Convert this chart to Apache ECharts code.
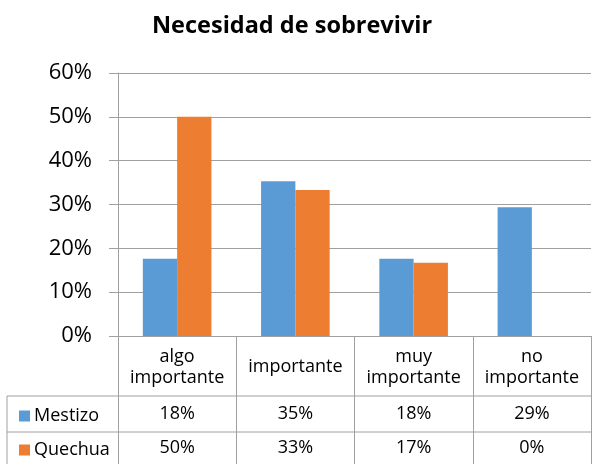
<!DOCTYPE html>
<html>
<head>
<meta charset="utf-8">
<script src="https://cdn.jsdelivr.net/npm/echarts@6/dist/echarts.min.js"></script>
<style>
  html, body { margin: 0; padding: 0; background: #fff; }
  #chart { width: 592px; height: 464px; }
</style>
</head>
<body>
<div id="chart"></div>
<script>
const categories = ['algo importante', 'importante', 'muy importante', 'no importante']
const mestizo = [0.176, 0.353, 0.176, 0.294]
const quechua = [0.5, 0.333, 0.167, 0]
const seriesNames = ['Mestizo', 'Quechua']
const colors = ['#5b9bd5', '#ed7d31']

const FONT = 'Open Sans'
const GRAY = '#a0a0a0'
// table / grid frame
const gridLeft = 118, gridRight = 591, gridTop = 73, gridBottom = 336
const tableLeft = 7, row1 = 396, row2 = 432, tableBottom = 466

const pct = v => Math.round(v * 100) + '%'

const chart = echarts.init(document.getElementById('chart'))

// one extra x axis per table row, only the labels are shown
const rowAxis = (values, margin) => ({
  type: 'category',
  data: categories,
  position: 'bottom',
  axisLine: { show: false },
  axisTick: { show: false },
  axisLabel: {
    margin: margin,
    verticalAlign: 'middle',
    fontFamily: FONT,
    fontSize: 18,
    color: '#000',
    formatter: (v, i) => pct(values[i])
  }
})

// legend key in the first column of each table row
const rowLegend = (name, top) => ({
  data: [name],
  left: 14,
  top: top,
  itemWidth: 11,
  itemHeight: 11,
  itemGap: 0,
  icon: 'rect',
  selectedMode: false,
  textStyle: { fontFamily: FONT, fontSize: 18, color: '#000', padding: [0, 0, 0, -1] }
})

const option = {
  animation: false,
  title: {
    text: 'Necesidad de sobrevivir',
    left: 147,
    top: 9,
    textStyle: { fontFamily: FONT, fontSize: 23.5, fontWeight: 'bold', color: '#000' }
  },
  legend: [rowLegend(seriesNames[0], 402), rowLegend(seriesNames[1], 436)],
  grid: {
    left: gridLeft,
    right: 592 - gridRight,
    top: gridTop,
    bottom: 464 - gridBottom,
    containLabel: false
  },
  xAxis: [
    {
      type: 'category',
      data: categories,
      axisLine: { lineStyle: { color: GRAY, width: 1 } },
      axisTick: { show: true, length: tableBottom - gridBottom, lineStyle: { color: GRAY } },
      axisLabel: {
        interval: 0,
        margin: 31,
        verticalAlign: 'middle',
        fontFamily: FONT,
        fontSize: 18,
        lineHeight: 21,
        color: '#000',
        formatter: v => v.split(' ').join('\n')
      }
    },
    rowAxis(mestizo, 78),
    rowAxis(quechua, 112)
  ],
  yAxis: {
    type: 'value',
    min: 0,
    max: 0.6,
    interval: 0.1,
    axisLine: { show: true, lineStyle: { color: GRAY } },
    axisTick: { show: true, length: 9, lineStyle: { color: GRAY } },
    splitLine: { lineStyle: { color: GRAY } },
    axisLabel: {
      margin: 26,
      fontFamily: FONT,
      fontSize: 22,
      color: '#000',
      formatter: v => pct(v)
    }
  },
  series: [
    {
      name: seriesNames[0],
      type: 'bar',
      data: mestizo,
      barGap: '0%',
      barCategoryGap: '42%',
      itemStyle: { color: colors[0] }
    },
    {
      name: seriesNames[1],
      type: 'bar',
      data: quechua,
      itemStyle: { color: colors[1] }
    }
  ],
  graphic: [
    { type: 'line', shape: { x1: tableLeft, y1: row1, x2: gridRight, y2: row1 }, style: { stroke: GRAY, lineWidth: 1 } },
    { type: 'line', shape: { x1: tableLeft, y1: row2, x2: gridRight, y2: row2 }, style: { stroke: GRAY, lineWidth: 1 } },
    { type: 'line', shape: { x1: tableLeft, y1: row1, x2: tableLeft, y2: tableBottom }, style: { stroke: GRAY, lineWidth: 1 } }
  ]
}

chart.setOption(option)
</script>
</body>
</html>
